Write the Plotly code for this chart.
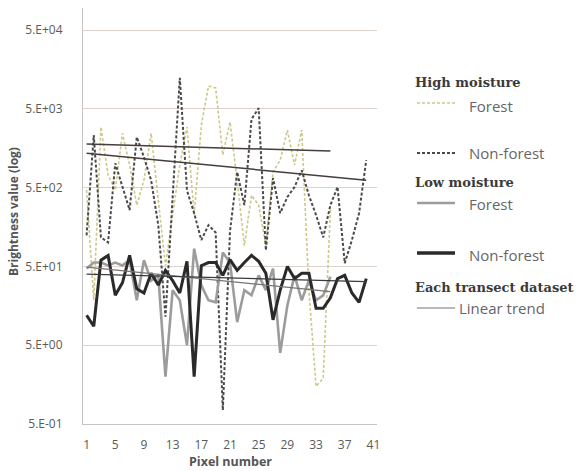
import plotly.graph_objects as go
import math

# ---- data ----
pixels_40 = list(range(1, 41))
pixels_35 = list(range(1, 36))

high_forest = [465, 18.6, 2940, 720, 465, 2450, 965, 300, 620, 2450, 345, 51, 225, 965, 2940,
               225, 3100, 9750, 9200, 1300, 3400, 620, 92, 400, 300, 92, 785, 1120, 2690, 965,
               2690, 25, 1.5, 1.9, 260]
high_nonforest = [124, 2320, 117, 101, 1020, 507, 259, 2190, 1220, 622, 167, 11.5, 345, 12400, 460,
                  237, 108, 167, 135, 0.75, 140, 790, 300, 3700, 5100, 80, 660, 237, 380, 510,
                  830, 400, 225, 117, 300, 510, 55, 108, 237, 1120]
low_forest = [47, 56, 56, 51.5, 56, 51.5, 60, 18.6, 60, 33, 38.5, 2.0, 25, 18.6, 5, 84, 28.7,
              18.6, 17.5, 75, 56, 9.8, 25, 21.5, 38.5, 25, 47, 4.0, 16, 38.5, 18.6, 33, 18.6,
              21.5, 37]
low_nonforest = [12, 8.7, 60, 69, 21.5, 31, 69, 26, 23, 41, 29, 44.5, 33, 23, 58, 2.0, 51, 56, 56,
                 38.5, 61, 44.5, 56, 69, 58, 41, 10.5, 25, 50, 35, 41, 41, 14.7, 14.7, 20, 35,
                 38.5, 23, 17.5, 35]

# linear trend end points (first / last pixel)
trend_high_forest_x = [1, 35]
trend_high_forest = [1790, 1455]
trend_high_nonforest_x = [1, 40]
trend_high_nonforest = [1370, 620]
trend_low_forest_x = [1, 35]
trend_low_forest = [49, 24]
trend_low_nonforest_x = [1, 40]
trend_low_nonforest = [40, 32]

y_tickvals = [0.5, 5, 50, 500, 5000, 50000]
y_ticktext = ["5.E-01", "5.E+00", "5.E+01", "5.E+02", "5.E+03", "5.E+04"]
x_tickvals = list(range(1, 42, 4))

# ---- styles ----
C_HF = "#cdc88a"
C_HNF = "#4a4a4a"
C_LF = "#9c9c9c"
C_LNF = "#2a2a2a"
C_TREND = "#443d3a"
SANS = "Open Sans"
SERIF = "DejaVu Serif"

fig = go.Figure()
fig.add_trace(go.Scatter(x=pixels_35, y=high_forest, mode="lines",
                         line=dict(color=C_HF, width=1.6, dash="3px,2px")))
fig.add_trace(go.Scatter(x=pixels_40, y=high_nonforest, mode="lines",
                         line=dict(color=C_HNF, width=2, dash="3px,2px")))
fig.add_trace(go.Scatter(x=pixels_35, y=low_forest, mode="lines",
                         line=dict(color=C_LF, width=2.6)))
fig.add_trace(go.Scatter(x=pixels_40, y=low_nonforest, mode="lines",
                         line=dict(color=C_LNF, width=3)))
fig.add_trace(go.Scatter(x=trend_high_forest_x, y=trend_high_forest, mode="lines",
                         line=dict(color=C_TREND, width=1.5)))
fig.add_trace(go.Scatter(x=trend_high_nonforest_x, y=trend_high_nonforest, mode="lines",
                         line=dict(color=C_TREND, width=1.5)))
fig.add_trace(go.Scatter(x=trend_low_forest_x, y=trend_low_forest, mode="lines",
                         line=dict(color="#7a7472", width=1.2)))
fig.add_trace(go.Scatter(x=trend_low_nonforest_x, y=trend_low_nonforest, mode="lines",
                         line=dict(color="#3a3a3a", width=1.3)))

# plot area in pixels: left 83, right 377, top 8, bottom 424
L, R, T, B = 83, 377, 8, 424
W, H = 583, 471


def px(x):
    return (x - L) / (R - L)


def py(y):
    return (B - y) / (B - T)


fig.update_layout(
    width=W, height=H,
    margin=dict(l=L, r=W - R, t=T, b=H - B, pad=0),
    paper_bgcolor="white", plot_bgcolor="white",
    showlegend=False,
    xaxis=dict(range=[0.5, 41.5], tickmode="array", tickvals=x_tickvals,
               showgrid=False, zeroline=False, showline=True, linecolor="#c4c4c4",
               linewidth=1, ticks="", ticklabelstandoff=10,
               tickfont=dict(family=SANS, size=12, color="#5a5a5a")),
    yaxis=dict(type="log", range=[math.log10(0.5), math.log10(50000) + 0.28],
               tickmode="array", tickvals=y_tickvals, ticktext=y_ticktext,
               showgrid=True, gridcolor="#dcd3cc", gridwidth=1, zeroline=False,
               showline=True, linecolor="#c4c4c4", linewidth=1, ticks="",
               ticklabelstandoff=17,
               tickfont=dict(family=SANS, size=12, color="#5a5a5a")),
)

annotations = [
    dict(text="<b>Brightness value (log)</b>", x=px(13), y=py(212), textangle=-90,
         font=dict(family=SANS, size=12, color="#555555")),
    dict(text="<b>Pixel number</b>", x=px(230), y=py(462),
         font=dict(family=SANS, size=12.5, color="#555555")),
]
for t in annotations:
    t.update(xref="paper", yref="paper", showarrow=False, xanchor="center", yanchor="middle")

legend_heads = [("High moisture", 82), ("Low moisture", 183), ("Each transect dataset", 287)]
for txt, yy in legend_heads:
    annotations.append(dict(text="<b>" + txt + "</b>", x=px(413), y=py(yy), xref="paper",
                            yref="paper", showarrow=False, xanchor="left", yanchor="middle",
                            font=dict(family=SERIF, size=13, color="#3a3a3a")))

legend_items = [
    ("Forest", 106, 103, C_HF, 1.6, "3px,2px", 467),
    ("Non-forest", 153, 153, C_HNF, 2, "3px,2px", 467),
    ("Forest", 204, 203, C_LF, 2.6, "solid", 467),
    ("Non-forest", 255, 253, C_LNF, 3.5, "solid", 467),
    ("Linear trend", 308, 308, "#7a6e6a", 1.2, "solid", 457),
]
shapes = []
for txt, ty, ly, col, w, dash, tx in legend_items:
    annotations.append(dict(text=txt, x=px(tx), y=py(ty), xref="paper", yref="paper",
                            showarrow=False, xanchor="left", yanchor="middle",
                            font=dict(family=SANS, size=15, color="#666666")))
    shapes.append(dict(type="line", xref="paper", yref="paper", x0=px(417), x1=px(455),
                       y0=py(ly), y1=py(ly), line=dict(color=col, width=w, dash=dash)))

fig.update_layout(annotations=annotations, shapes=shapes)
fig.write_html("out.html", config={"displayModeBar": False},
               post_script="document.body.style.margin='0px';document.body.style.overflow='hidden';")
